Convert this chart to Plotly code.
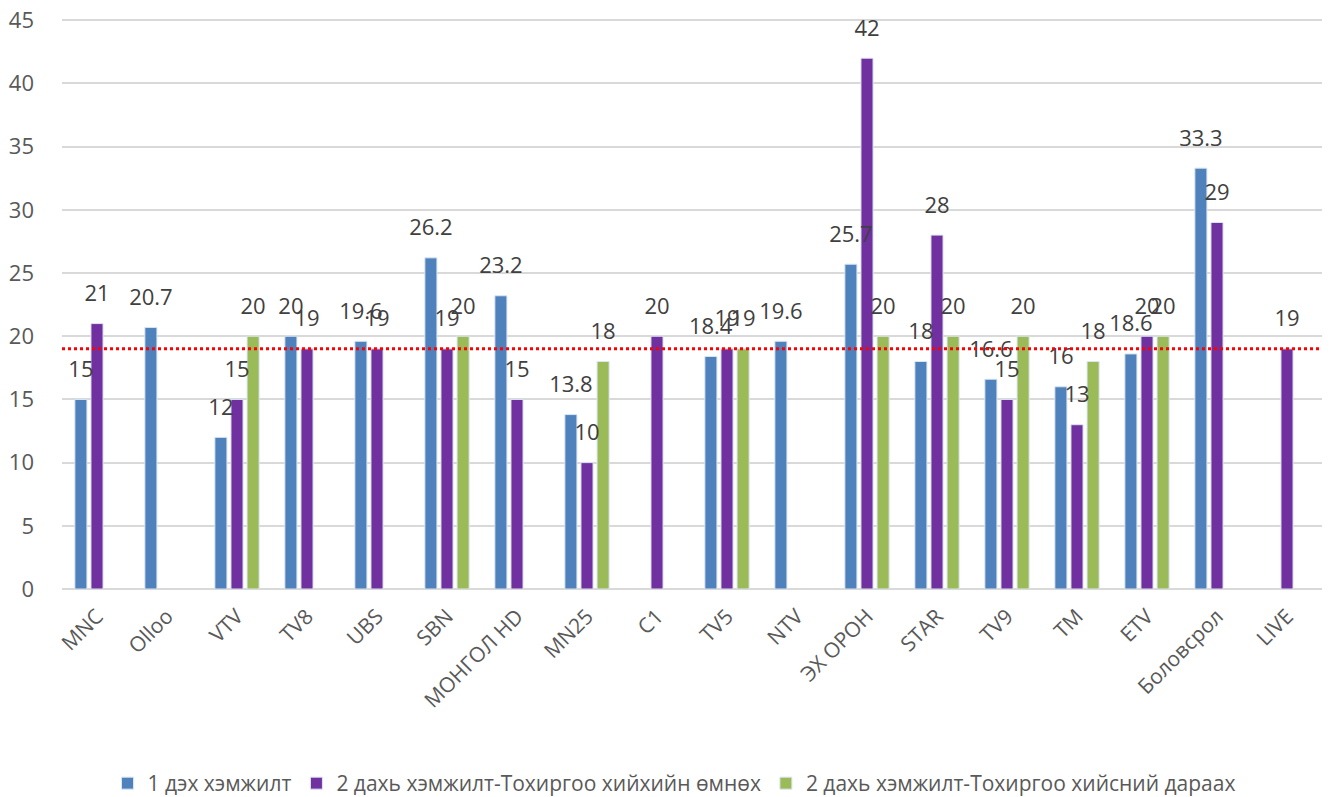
import plotly.graph_objects as go

categories = ["MNC", "Olloo", "VTV", "TV8", "UBS", "SBN", "МОНГОЛ HD", "MN25", "C1", "TV5",
              "NTV", "ЭХ ОРОН", "STAR", "TV9", "TM", "ETV", "Боловсрол", "LIVE"]
series1 = [15, 20.7, 12, 20, 19.6, 26.2, 23.2, 13.8, None, 18.4, 19.6, 25.7, 18, 16.6, 16, 18.6, 33.3, None]
series2 = [21, None, 15, 19, 19, 19, 15, 10, 20, 19, None, 42, 28, 15, 13, 20, 29, 19]
series3 = [None, None, 20, None, None, 20, None, 18, None, 19, None, 20, 20, 20, 18, 20, None, None]
names = ["1 дэх хэмжилт", "2 дахь хэмжилт-Тохиргоо хийхийн өмнөх", "2 дахь хэмжилт-Тохиргоо хийсний дараах"]
colors = ["#4F81BD", "#7030A0", "#9BBB59"]
threshold = 19

FONT = "Open Sans"
all_series = [series1, series2, series3]
fig = go.Figure()
# bars
for i, (vals, nm, col) in enumerate(zip(all_series, names, colors)):
    fig.add_trace(go.Bar(
        x=categories, y=vals, name=nm, offsetgroup=str(i),
        marker=dict(color=col, line=dict(color="#DCE6F2", width=1)),
        hoverinfo="x+y+name",
    ))
# data labels drawn on top of all bars
for i, vals in enumerate(all_series):
    fig.add_trace(go.Bar(
        x=categories, y=vals, offsetgroup=str(i), showlegend=False, hoverinfo="skip",
        marker=dict(color="rgba(0,0,0,0)", line=dict(width=0)),
        text=[("" if v is None else f"<span style='font-size:22px'>{v:g}</span><br>&nbsp;") for v in vals],
        textposition="outside", constraintext="none", cliponaxis=False,
        textfont=dict(family=FONT, size=12, color="#404040"),
    ))

fig.add_shape(type="line", xref="paper", x0=0, x1=1, yref="y", y0=threshold, y1=threshold,
              line=dict(color="#FF0000", width=3, dash="dot"))

fig.update_layout(
    width=1332, height=797,
    barmode="group", bargap=0.31, bargroupgap=0.25,
    plot_bgcolor="white", paper_bgcolor="white",
    margin=dict(l=54, r=18, t=11, b=216),
    font=dict(family=FONT, color="#595959"),
    xaxis=dict(tickangle=-45, tickfont=dict(size=21, color="#595959", family=FONT),
               showline=False, showgrid=False, automargin=False, ticks="",
               ticklabelstandoff=10),
    yaxis=dict(range=[0, 45.1], tickvals=[0, 5, 10, 15, 20, 25, 30, 35, 40, 45],
               showgrid=True, gridcolor="#D9D9D9", gridwidth=1.5,
               zeroline=True, zerolinecolor="#D9D9D9", zerolinewidth=1.5,
               tickfont=dict(size=22, color="#595959", family=FONT), automargin=False,
               ticklabelstandoff=27, ticklabeloverflow="allow"),
    legend=dict(orientation="h", x=0.5, xanchor="center", xref="container",
                y=0.027, yanchor="middle", yref="container",
                font=dict(size=21, color="#595959", family=FONT), traceorder="normal",
                itemwidth=30),
    showlegend=True,
)

fig.write_html("out.html")
